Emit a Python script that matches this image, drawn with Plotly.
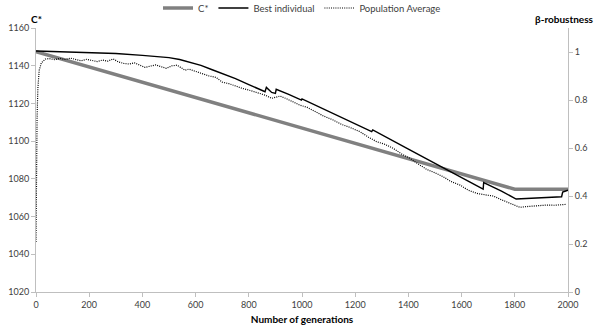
import plotly.graph_objects as go

# ---- data ----
cstar_gen = [0, 1800, 2000]
cstar_val = [1147.5, 1074.5, 1074.5]

best_gen = [0, 100, 200, 300, 400, 500, 540, 580, 620, 660, 700, 750, 800, 861, 866,
            886, 900, 903, 950, 998, 1000, 1050, 1100, 1150, 1200, 1262, 1266, 1300,
            1400, 1500, 1600, 1681, 1683, 1750, 1805, 1900, 1976, 1980, 2000]
best_val = [1147.8, 1147.4, 1147.0, 1146.5, 1145.5, 1144.3, 1143.3, 1141.8, 1140.2, 1138.0,
            1136.0, 1133.2, 1130.0, 1126.2, 1128.5, 1125.8, 1125.3, 1127.5, 1124.8, 1121.8,
            1122.4, 1119.0, 1116.0, 1112.5, 1109.0, 1105.0, 1106.0, 1103.5, 1095.8, 1088.2,
            1080.6, 1074.6, 1078.0, 1073.5, 1069.3, 1069.8, 1070.5, 1073.0, 1074.0]

pop_gen = [0, 2, 4, 7, 12, 20, 35, 50, 70, 90, 110, 130, 150, 170, 190, 210, 230, 250, 270,
           290, 310, 330, 350, 370, 390, 410, 430, 450, 470, 490, 510, 530, 545, 560, 575,
           600, 625, 650, 677, 700, 725, 750, 775, 800, 830, 861, 886, 900, 917, 940, 965,
           992, 1020, 1050, 1080, 1117, 1150, 1180, 1218, 1250, 1281, 1310, 1343, 1375,
           1406, 1440, 1469, 1500, 1531, 1560, 1594, 1625, 1657, 1690, 1719, 1745, 1769,
           1795, 1819, 1845, 1869, 1895, 1919, 1950, 1975, 1995]
pop_val = [1046.5, 1088.0, 1112.0, 1128.0, 1137.5, 1141.5, 1143.5, 1143.8, 1143.2, 1143.9,
           1143.3, 1144.0, 1143.1, 1142.6, 1143.4, 1142.8, 1142.2, 1143.0, 1142.4, 1143.6,
           1142.0, 1141.2, 1140.9, 1141.5, 1140.2, 1139.1, 1139.8, 1140.4, 1139.5, 1138.6,
           1139.9, 1140.3, 1139.0, 1137.6, 1138.2, 1136.9, 1135.8, 1134.6, 1133.8, 1131.3,
           1130.5, 1129.2, 1128.0, 1127.1, 1125.8, 1124.4, 1122.7, 1123.2, 1123.9, 1122.6,
           1120.8, 1119.1, 1117.9, 1115.6, 1113.4, 1111.2, 1108.8, 1107.3, 1105.0, 1102.1,
           1099.7, 1098.4, 1096.2, 1093.1, 1090.9, 1087.6, 1085.0, 1083.2, 1081.1, 1078.6,
           1076.7, 1074.0, 1072.3, 1071.5, 1070.9, 1069.2, 1067.9, 1066.1, 1064.9, 1065.3,
           1065.6, 1065.9, 1066.1, 1066.0, 1066.4, 1066.5]

x_ticks = [0, 200, 400, 600, 800, 1000, 1200, 1400, 1600, 1800, 2000]
left_ticks = [1020, 1040, 1060, 1080, 1100, 1120, 1140, 1160]
right_ticks = [0, 0.2, 0.4, 0.6, 0.8, 1]
right_labels = ["0", "0.2", "0.4", "0.6", "0.8", "1"]

FONT = "Lato"
AX = "#bfbfbf"
TXT = "#404040"
W, H = 597, 331
ML, MR, MT, MB = 36, 29, 28, 39
plot_h = H - MT - MB
plot_w = W - ML - MR

fig = go.Figure()
fig.add_trace(go.Scatter(x=cstar_gen, y=cstar_val, mode="lines", name="C*",
                         line=dict(color="#808080", width=3.5)))
fig.add_trace(go.Scatter(x=best_gen, y=best_val, mode="lines", name="Best individual",
                         line=dict(color="black", width=1.4)))
fig.add_trace(go.Scatter(x=pop_gen, y=pop_val, mode="lines", name="Population Average",
                         line=dict(color="black", width=1.2, dash="1px,1.2px")))
fig.add_trace(go.Scatter(x=[None], y=[None], yaxis="y2", showlegend=False,
                         hoverinfo="skip", mode="lines"))

fig.update_layout(
    width=W, height=H,
    margin=dict(l=ML, r=MR, t=MT, b=MB, autoexpand=False),
    paper_bgcolor="white", plot_bgcolor="white",
    font=dict(family=FONT, size=9, color=TXT),
    showlegend=True,
    legend=dict(orientation="h", x=0.5, xanchor="center",
                y=1 + (MT - 8) / plot_h, yanchor="middle",
                font=dict(size=9.5, color=TXT), bgcolor="rgba(0,0,0,0)",
                itemwidth=30, tracegroupgap=0),
    xaxis=dict(range=[0, 2000], tickvals=x_ticks, showline=True, linecolor=AX,
               linewidth=1, ticks="outside", ticklen=4, tickcolor=AX, showgrid=False,
               zeroline=False, automargin=False,
               title=dict(text="<b>Number of generations</b>",
                          font=dict(size=10, color="black"), standoff=7)),
    yaxis=dict(range=[1020, 1160], tickvals=left_ticks, showline=True, linecolor=AX,
               linewidth=1, ticks="outside", ticklen=4, tickcolor=AX, showgrid=False,
               zeroline=False, automargin=False),
    yaxis2=dict(range=[0, 1.1], tickvals=right_ticks, ticktext=right_labels,
                overlaying="y", side="right", showline=True, linecolor=AX, linewidth=1,
                ticks="outside", ticklen=4, tickcolor=AX, showgrid=False, zeroline=False,
                automargin=False),
    annotations=[
        dict(text="<b>C*</b>", x=0, xref="paper", xanchor="center",
             y=1 + (MT - 19) / plot_h, yref="paper", yanchor="middle", showarrow=False,
             font=dict(size=10, color="black")),
        dict(text="<b>β-robustness</b>", x=1 + (596 - (ML + plot_w)) / plot_w,
             xref="paper", xanchor="right", y=1 + (MT - 19) / plot_h, yref="paper",
             yanchor="middle", showarrow=False, font=dict(size=10, color="black")),
    ],
)

fig.write_html("out.html", config={"displayModeBar": False},
               post_script="document.body.style.margin='0';document.body.style.padding='0';")
